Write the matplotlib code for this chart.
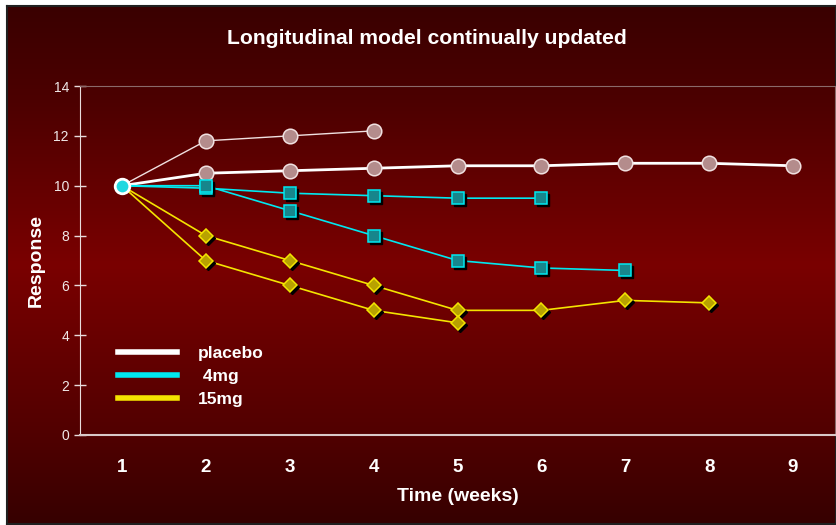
import matplotlib.pyplot as plt
import numpy as np
from matplotlib.colors import LinearSegmentedColormap
from matplotlib.lines import Line2D
from matplotlib.transforms import offset_copy

plt.rcParams['font.family'] = ['Liberation Sans', 'DejaVu Sans']

# data
weeks = [1, 2, 3, 4, 5, 6, 7, 8, 9]
placebo_long = [10, 10.5, 10.6, 10.7, 10.8, 10.8, 10.9, 10.9, 10.8]
placebo_short = [10, 11.8, 12.0, 12.2]
mg4_a = [10, 9.9, 9.7, 9.6, 9.5, 9.5]
mg4_b = [10, 10.0, 9.0, 8.0, 7.0, 6.7, 6.6]
mg15_a = [10, 8.0, 7.0, 6.0, 5.0, 5.0, 5.4, 5.3]
mg15_b = [10, 7.0, 6.0, 5.0, 4.5]
y_ticks = [0, 2, 4, 6, 8, 10, 12, 14]
legend_labels = ["placebo", " 4mg", "15mg"]

fig = plt.figure(figsize=(8.36, 5.25), dpi=100)

# gradient background panel
bg = fig.add_axes([7 / 836, 1 / 525, 829 / 836, 518 / 525], zorder=0)
cmap = LinearSegmentedColormap.from_list(
    "bg", [(0, "#3a0000"), (0.18, "#4c0000"), (0.5, "#7a0000"),
           (0.82, "#520000"), (1, "#360000")])
grad = np.linspace(0, 1, 256).reshape(-1, 1)
bg.imshow(grad, aspect="auto", cmap=cmap, extent=[0, 1, 0, 1])
bg.set_xticks([])
bg.set_yticks([])
for s in bg.spines.values():
    s.set_color("#202020")
    s.set_linewidth(1.5)

ax = fig.add_axes([80 / 836, 1 - 435 / 525, 755 / 836, 349 / 525], zorder=1)
ax.patch.set_alpha(0)

shadow = offset_copy(ax.transData, fig=fig, x=2, y=-2, units="dots")

white = "#ffffff"
cyan = "#00e8f0"
yellow = "#f4e400"

# placebo
ax.plot(weeks[:len(placebo_long)], placebo_long, color=white, lw=2.0, zorder=3)
ax.plot(weeks[:len(placebo_short)], placebo_short, color="#f0e0e0", lw=1.0, zorder=3)
for ys in (placebo_long, placebo_short):
    ax.plot(weeks[1:len(ys)], ys[1:], ls="none", marker="o", ms=10.5,
            mfc="#b48c8c", mec="#f0e0e0", mew=1.1, zorder=4)

# 4mg
for ys in (mg4_a, mg4_b):
    ax.plot(weeks[:len(ys)], ys, color=cyan, lw=1.2, zorder=3)
    ax.plot(weeks[1:len(ys)], ys[1:], ls="none", marker="s", ms=8.5,
            color="black", transform=shadow, zorder=3.5)
    ax.plot(weeks[1:len(ys)], ys[1:], ls="none", marker="s", ms=8.5,
            mfc="#17868c", mec=cyan, mew=1.1, zorder=4)

# 15mg
for ys in (mg15_a, mg15_b):
    ax.plot(weeks[:len(ys)], ys, color=yellow, lw=1.2, zorder=3)
    ax.plot(weeks[1:len(ys)], ys[1:], ls="none", marker="D", ms=7,
            color="black", transform=shadow, zorder=3.5)
    ax.plot(weeks[1:len(ys)], ys[1:], ls="none", marker="D", ms=7,
            mfc="#b8a200", mec=yellow, mew=1.1, zorder=4)

# common starting point
ax.plot([weeks[0]], [placebo_long[0]], ls="none", marker="o", ms=10.5,
        mfc="#20d8e0", mec=white, mew=2, zorder=5)

ax.set_xlim(0.5, 9.5)
ax.set_ylim(0, 14)
ax.set_xticks(weeks)
ax.set_yticks(y_ticks)
ax.tick_params(axis="x", length=0, pad=17, labelcolor="white", labelsize=13.5)
ax.tick_params(axis="y", direction="inout", length=8, width=1, color="#e8dcdc",
               labelcolor="#f0e8e8", labelsize=10, pad=4)
for lab in ax.get_xticklabels():
    lab.set_fontweight("bold")

ax.spines["left"].set_color("#e8dcdc")
ax.spines["bottom"].set_color("#d8c8c8")
ax.spines["bottom"].set_linewidth(1.5)
ax.spines["top"].set_color("#8a6a6a")
ax.spines["right"].set_color("#8a6a6a")

ax.set_xlabel("Time (weeks)", color="white", fontsize=14, fontweight="bold", labelpad=9)
ax.set_ylabel("Response", color="white", fontsize=14, fontweight="bold", labelpad=6)
fig.text(427 / 836, 1 - 38 / 525, "Longitudinal model continually updated",
         ha="center", va="center", color="white", fontsize=15.2, fontweight="bold")

handles = [Line2D([], [], color=c, lw=4) for c in (white, cyan, yellow)]
leg = ax.legend(handles, legend_labels, loc="upper left",
                bbox_to_anchor=(0.03, 0.30), frameon=False, handlelength=3.4,
                handletextpad=1.2, labelspacing=0.45,
                prop={"size": 12.5, "weight": "bold"})
for t in leg.get_texts():
    t.set_color("white")

fig.savefig("out.png", dpi=100, facecolor="white")
